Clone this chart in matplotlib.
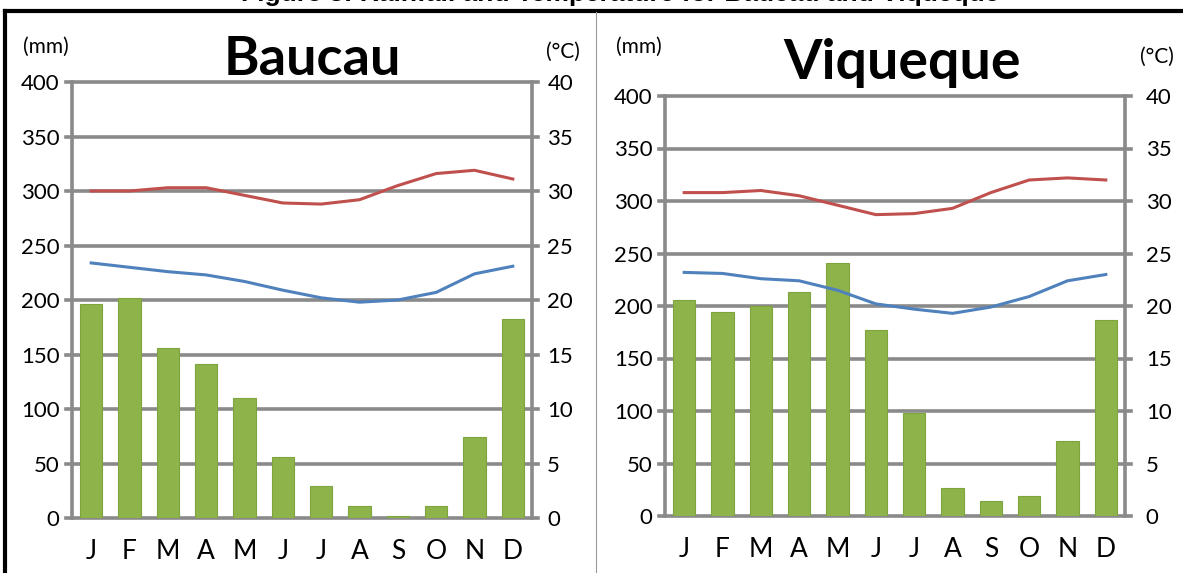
import numpy as np
import matplotlib.pyplot as plt
from matplotlib.lines import Line2D

plt.rcParams['font.family'] = ['Lato', 'DejaVu Sans']

months = ['J', 'F', 'M', 'A', 'M', 'J', 'J', 'A', 'S', 'O', 'N', 'D']
rain_ticks = [0, 50, 100, 150, 200, 250, 300, 350, 400]
temp_ticks = [0, 5, 10, 15, 20, 25, 30, 35, 40]

baucau_rain = [196, 202, 156, 141, 110, 56, 29, 11, 2, 11, 74, 183]
baucau_tmax = [30.0, 30.0, 30.3, 30.3, 29.6, 28.9, 28.8, 29.2, 30.5, 31.6, 31.9, 31.1]
baucau_tmin = [23.4, 23.0, 22.6, 22.3, 21.7, 20.9, 20.2, 19.8, 20.0, 20.7, 22.4, 23.1]

viqueque_rain = [206, 194, 200, 213, 241, 177, 98, 27, 14, 19, 71, 187]
viqueque_tmax = [30.8, 30.8, 31.0, 30.5, 29.6, 28.7, 28.8, 29.3, 30.8, 32.0, 32.2, 32.0]
viqueque_tmin = [23.2, 23.1, 22.6, 22.4, 21.5, 20.2, 19.7, 19.3, 19.9, 20.9, 22.4, 23.0]

W, H = 1183, 573
fig = plt.figure(figsize=(W / 100, H / 100), dpi=100)
fig.patch.set_facecolor('white')

GRID = '#8a8a8a'
BAR = '#8db34a'


def px(x0, y_top, x1, y_bot):
    return [x0 / W, 1 - y_bot / H, (x1 - x0) / W, (y_bot - y_top) / H]


def panel(rect, name, rain, tmax, tmin, lpad, rpad, title_xy, title_size, mm_xy, c_xy):
    ax = fig.add_axes(rect)
    x = np.arange(len(months))
    ax.bar(x, rain, width=0.58, color=BAR, edgecolor='#7ea43e', linewidth=0.8, zorder=3)
    ax.set_xlim(-0.5, 11.5)
    ax.set_ylim(0, 400)
    ax.set_yticks(rain_ticks)
    for v in rain_ticks:
        ax.axhline(v, xmin=-0.012, xmax=1.012, color=GRID, lw=2.6, clip_on=False, zorder=1)
    for s in ['top', 'bottom']:
        ax.spines[s].set_visible(False)
    for s in ['left', 'right']:
        ax.spines[s].set_color(GRID)
        ax.spines[s].set_linewidth(2.6)
    ax.set_xticks(x)
    ax.set_xticklabels(months, fontsize=19)
    ax.tick_params(axis='x', length=0, pad=15)
    ax.tick_params(axis='y', length=0, pad=lpad, labelsize=16)

    ax2 = ax.twinx()
    ax2.set_ylim(0, 40)
    ax2.set_yticks(temp_ticks)
    ax2.plot(x, tmax, color='#c0504d', lw=2.2, zorder=4)
    ax2.plot(x, tmin, color='#4f81bd', lw=2.2, zorder=4)
    for s in ax2.spines.values():
        s.set_visible(False)
    ax2.tick_params(axis='y', length=0, pad=rpad, labelsize=16)

    fig.text(title_xy[0] / W, 1 - title_xy[1] / H, name, fontsize=title_size, fontweight='bold',
             ha='center', va='baseline')
    fig.text(mm_xy[0] / W, 1 - mm_xy[1] / H, '(mm)', fontsize=15, ha='center', va='center')
    fig.text(c_xy[0] / W, 1 - c_xy[1] / H, '(°C)', fontsize=15, ha='center', va='center')


panel(px(72, 82, 532, 518), 'Baucau', baucau_rain, baucau_tmax, baucau_tmin,
      9, 11, (312, 75), 39, (46, 47), (563, 52))
panel(px(665, 96, 1125, 516), 'Viqueque', viqueque_rain, viqueque_tmax, viqueque_tmin,
      9, 15, (902, 79), 40, (639, 47), (1157, 57))

# frame around the figure panels
fig.add_artist(Line2D([5 / W, 1], [1 - 11 / H, 1 - 11 / H], color='black', lw=3))
fig.add_artist(Line2D([5 / W, 5 / W], [1 - 11 / H, 0], color='black', lw=3))
fig.add_artist(Line2D([596 / W, 596 / W], [1 - 12 / H, 0], color='#9a9a9a', lw=0.8))

# caption, cut off at the top edge as in the source
fig.text(620 / W, 1 - 1 / H, 'Figure 3: Rainfall and Temperature for Baucau and Viqueque',
         family=['Liberation Sans', 'DejaVu Sans'], fontsize=19, fontweight='bold',
         ha='center', va='baseline')

fig.savefig('out.png', dpi=100)
